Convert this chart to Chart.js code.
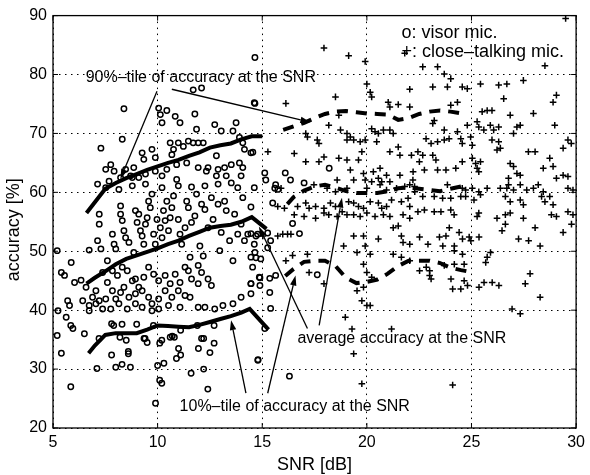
<!DOCTYPE html>
<html><head><meta charset="utf-8">
<script src="https://cdn.jsdelivr.net/npm/chart.js@4/dist/chart.umd.min.js"></script>
<style>html,body{margin:0;padding:0;background:#fff;}canvas{display:block;}</style>
</head><body>
<canvas id="c" width="590" height="475"></canvas>
<script>
// ---------- data (SNR [dB], accuracy [%]) ----------
const xTickValues = [5, 10, 15, 20, 25, 30];
const yTickValues = [20, 30, 40, 50, 60, 70, 80, 90];

const visorPoints = [
[7.21,56.3],[7.21,54.6],[5.55,45.9],[5.87,48.1],[6.03,44.7],[6.34,45.1],[6.73,50.2],[7.13,51.8],[7.29,50.4],[7.60,48.4],
[7.84,52.9],[7.92,51.2],[8.0,50.4],[8.23,57.7],[8.23,56.3],[8.31,55.2],[8.39,53.5],[8.47,52.3],[8.63,51.5],[8.86,49.8],
[8.94,56.9],[9.02,54.9],[9.10,56.3],[9.18,53.5],[9.26,52.6],[9.34,51.2],[9.42,54.6],[9.50,55.7],[9.57,58.5],[9.65,57.4],
[9.73,59.7],[9.81,52.9],[9.89,51.2],[9.97,55.4],[10.13,54.0],[10.21,52.3],[10.28,56.9],[10.36,55.2],[10.44,58.5],[10.52,53.5],
[10.60,55.7],[10.68,57.4],[10.76,59.4],[10.99,55.4],[11.07,52.9],[11.15,51.2],[11.31,54.0],[11.39,58.5],[11.47,57.4],[11.55,49.0],
[11.62,54.9],[11.78,56.0],[11.86,59.7],[11.94,47.6],[12.02,50.9],[12.10,58.0],[12.18,49.2],[12.26,57.1],[12.41,54.0],[12.57,59.1],
[12.65,55.4],[12.89,58.0],[12.97,50.1],[13.04,53.2],[13.20,58.5],[13.28,56.9],[13.44,51.8],[13.60,48.4],[13.68,56.3],[13.83,52.9],
[13.99,54.6],[14.07,59.1],[14.15,51.8],[14.31,52.9],[14.46,49.0],[14.54,47.3],[14.62,51.2],[14.78,52.9],[14.86,45.6],[14.46,44.5],
[13.99,42.2],[13.60,41.1],[13.12,40.8],[12.73,40.2],[12.57,44.2],[12.41,45.3],[12.10,46.4],[11.94,44.5],[11.62,45.3],[11.47,46.7],
[11.31,47.3],[11.07,44.7],[10.84,46.1],[10.60,44.5],[10.36,45.9],[10.05,45.0],[9.81,46.1],[9.57,47.3],[9.34,45.6],[9.10,43.9],
[8.94,45.3],[8.79,45.0],[8.55,46.7],[8.31,47.3],[8.08,45.9],[7.84,46.7],[7.60,44.7],[7.37,46.4],[7.05,43.3],[6.89,42.2],
[6.73,40.8],[6.58,43.9],[6.42,41.6],[7.21,41.6],[7.52,41.9],[7.84,43.3],[8.0,41.9],[8.23,43.0],[8.39,43.9],[8.63,42.2],
[8.94,42.8],[9.26,43.3],[9.57,42.2],[9.73,41.1],[10.05,41.9],[10.36,43.3],[10.68,42.2],[10.99,43.3],[11.31,42.5],[11.55,42.2],
[11.94,40.5],[12.26,40.5],[11.07,40.5],[10.52,40.8],[10.05,40.2],[9.73,39.9],[9.26,40.5],[8.94,41.1],[8.55,40.2],[8.15,41.1],
[7.76,40.2],[7.37,40.2],[7.05,41.1],[6.73,39.9],[5.79,40.8],[5.24,39.9],[5.63,38.8],[5.2,50.1],[5.4,46.4],[5.7,41.6],
[8.39,74.2],[8.31,69.0],[7.29,67.5],[7.52,63.9],[7.76,64.7],[7.92,63.6],[8.47,63.9],[8.86,64.2],[8.71,62.8],[9.26,66.7],
[9.34,65.6],[9.73,67.3],[9.89,65.9],[10.05,74.3],[10.13,73.2],[10.21,71.8],[10.44,73.9],[10.60,68.4],[10.68,66.4],[10.76,67.3],
[10.84,72.9],[10.91,64.7],[10.99,68.4],[11.07,71.8],[11.23,67.8],[11.47,68.7],[11.70,68.4],[11.78,73.3],[11.86,70.7],[11.94,68.4],
[12.18,68.4],[11.70,77.4],[12.10,77.7],[12.73,71.5],[13.04,70.4],[13.60,70.4],[13.75,71.8],[13.91,69.3],[14.07,68.4],[14.15,67.3],
[14.46,66.7],[14.62,75.2],[12.81,66.2],[11.94,64.2],[12.41,64.2],[12.89,63.9],[13.20,64.2],[13.52,64.7],[13.91,65.0],[14.07,64.2],
[13.99,62.8],[13.28,62.8],[12.81,62.8],[12.33,63.6],[11.39,65.0],[10.44,63.9],[10.21,62.8],[9.89,63.6],[10.91,62.2],[9.42,63.1],
[9.10,62.5],[8.79,62.5],[8.23,62.5],[7.68,61.9],[7.13,61.4],[7.52,60.8],[8.15,60.5],[8.79,61.1],[9.42,61.4],[10.21,60.8],
[10.99,61.1],[11.62,60.9],[12.26,61.1],[12.89,61.4],[13.52,61.6],[13.83,60.8],[14.62,60.8],
[5.2,35.7],[5.4,32.7],[5.85,37.4],[5.95,36.9],[6.5,36.0],[5.85,27.0],[7.1,30.1],[7.8,32.4],[8.0,30.3],[8.3,30.8],
[8.7,30.3],[8.6,33.0],[8.6,32.6],[7.2,35.2],[8.2,35.4],[8.5,34.9],[9.4,35.2],[10.1,34.4],[10.2,34.9],[10.0,30.6],
[10.1,28.1],[10.2,27.6],[9.9,24.2],[10.3,31.0],[10.6,35.4],[10.8,35.4],[11.0,33.5],[11.1,32.4],[10.9,31.8],[11.1,36.6],
[11.6,29.3],[11.95,33.5],[12.2,35.2],[12.2,30.0],[12.4,26.6],[12.5,32.8],[12.7,34.4],[12.7,37.4],[14.8,31.6],[7.8,37.7],
[7.9,37.4],[8.3,37.6],[9.0,37.6],[9.35,35.2],[9.5,34.5],[9.8,37.4],[10.7,35.6],[11.9,37.4],[12.1,35.2],
[14.65,82.9],[14.65,75.1],[14.55,66.8],[18.2,64.1],[15.12,63.3],[15.17,62.1],[15.64,61.3],[15.6,60.7],[16.1,63.3],[16.35,62.1],
[17.0,61.6],[15.5,58.2],[14.46,57.5],[15.75,60.5],[16.45,54.7],[15.26,53.1],[15.4,51.8],[15.26,50.6],[14.89,45.5],[15.36,45.4],
[15.64,45.9],[15.36,43.0],[15.4,40.3],[17.63,46.0],[14.46,53.0],[14.7,52.6],[16.78,53.0],[14.65,49.8],[14.7,48.9],[14.93,48.7],
[14.46,44.5],[14.89,44.2],[14.46,42.8],[15.12,36.9],[14.79,31.5],[16.3,28.8]
];

const closePoints = [
[17.95,84.5],[19.13,83.2],[19.92,82.2],[21.81,83.6],[22.05,77.5],[20.0,78.4],[20.16,77.0],[20.23,76.2],[18.5,76.2],[16.13,75.1],
[21.02,75.3],[21.1,74.5],[21.5,74.9],[22.05,74.5],[18.66,73.1],[18.18,71.4],[17.08,70.0],[17.16,69.4],[17.63,68.9],[17.71,68.3],
[18.74,70.6],[19.05,70.0],[19.21,69.4],[19.05,68.9],[19.37,68.9],[19.68,68.6],[19.92,68.9],[20.23,70.8],[20.39,70.3],[20.55,70.0],
[20.79,70.6],[21.1,70.6],[21.26,70.0],[20.47,68.6],[21.1,66.9],[21.5,67.7],[21.58,66.3],[22.13,66.3],[15.27,66.9],[16.53,66.6],
[17.08,65.2],[17.71,65.2],[17.95,66.0],[18.66,65.8],[19.05,65.5],[19.6,65.5],[19.76,66.9],[19.21,63.8],[19.84,63.2],[20.31,63.5],
[20.63,64.1],[20.55,62.4],[20.71,61.8],[20.94,62.9],[21.1,61.8],[21.58,62.9],[22.21,63.5],[18.58,62.1],[19.37,62.1],[19.92,62.1],
[20.23,61.8],[20.0,60.7],[17.47,61.3],[18.1,60.7],[18.5,60.1],[19.05,60.7],[20.63,61.3],[20.94,60.4],[21.42,60.7],[21.81,61.0],
[22.05,61.3],[22.29,60.1],[15.9,60.7],[15.74,57.6],[16.06,57.3],[16.69,57.6],[17.08,58.2],[17.24,57.3],[17.55,57.6],[17.95,57.3],
[18.26,58.2],[18.5,57.6],[19.13,58.4],[19.37,58.2],[19.6,57.6],[19.84,57.3],[20.16,58.4],[20.55,58.2],[20.71,57.3],[20.94,57.6],
[21.18,58.7],[21.65,58.4],[21.97,59.0],[22.05,57.6],[16.53,56.2],[17.0,55.9],[17.55,55.6],[17.95,56.5],[18.18,56.2],[18.58,55.9],
[18.82,56.7],[19.05,56.2],[19.37,56.2],[19.68,55.9],[20.0,56.5],[20.39,55.9],[20.79,56.2],[21.1,55.9],[21.73,56.2],[22.05,55.6],
[22.67,81.3],[23.38,81.3],[23.7,80.1],[24.01,79.3],[23.15,77.9],[23.85,77.9],[24.56,77.9],[24.8,77.6],[25.43,78.4],[26.3,78.2],
[26.69,78.4],[27.48,79.0],[28.51,81.5],[29.06,76.5],[28.9,75.3],[24.01,74.8],[24.33,75.3],[26.54,75.9],[25.51,73.7],[25.75,73.9],
[25.98,73.9],[26.85,73.1],[27.96,73.4],[23.15,71.7],[23.22,72.2],[23.7,70.6],[24.33,70.3],[24.8,71.4],[25.27,72.0],[25.35,71.1],
[25.59,70.6],[25.9,71.4],[26.06,70.6],[26.3,71.1],[27.17,71.1],[27.33,71.4],[28.98,71.4],[29.61,68.9],[29.77,68.3],[29.38,67.5],
[22.83,69.1],[23.07,68.3],[23.38,68.6],[23.7,68.9],[23.93,69.1],[24.49,69.1],[24.56,68.3],[24.96,69.4],[25.04,68.0],[25.98,68.9],
[26.3,68.6],[26.38,67.5],[26.22,67.2],[27.01,70.0],[27.72,66.9],[28.04,66.9],[22.44,66.9],[22.67,66.3],[23.15,66.3],[23.3,65.5],
[22.51,65.2],[22.75,63.8],[23.38,63.8],[23.78,63.8],[24.25,64.1],[24.56,65.2],[25.04,65.8],[25.2,64.9],[25.27,64.1],[25.35,63.5],
[25.43,65.2],[26.85,64.9],[27.01,64.4],[27.17,63.2],[27.33,62.9],[26.77,62.4],[26.77,61.3],[28.74,65.8],[28.9,64.4],[28.43,64.1],
[29.06,62.4],[29.38,62.9],[29.61,62.7],[22.2,62.1],[22.28,61.0],[23.85,61.3],[24.56,60.7],[24.72,60.4],[25.04,60.7],[25.35,60.1],
[25.75,60.7],[26.38,60.7],[26.69,60.7],[27.01,60.4],[27.33,61.3],[27.64,60.4],[27.96,60.7],[28.19,61.3],[28.43,60.1],[29.61,60.7],
[29.85,60.4],[22.67,59.3],[23.22,59.3],[23.62,59.0],[24.01,59.0],[24.49,59.3],[24.72,59.3],[25.12,58.7],[25.43,59.6],[26.62,59.3],
[26.85,58.4],[27.33,58.7],[27.48,57.9],[28.35,59.3],[28.51,58.4],[28.74,59.3],[28.9,57.9],[22.44,56.7],[22.75,57.0],[23.22,56.7],
[23.54,56.7],[24.01,57.0],[24.17,56.2],[25.27,55.9],[25.35,56.5],[26.22,55.6],[26.62,56.2],[26.85,56.5],[27.48,55.6],[28.82,56.2],
[29.06,55.9],[29.61,56.7],[29.85,56.2],[29.5,89.5],
[15.03,52.6],[15.74,52.6],[15.98,52.9],[16.21,52.9],[16.37,52.9],[16.13,48.4],[16.45,49.3],[17.16,49.5],[17.24,46.4],[17.95,44.5],
[18.89,50.9],[19.37,52.6],[19.53,49.8],[19.84,52.6],[19.92,50.9],[20.16,49.5],[19.84,47.8],[20.0,46.4],[20.23,45.6],[20.55,52.1],
[19.53,43.3],[19.84,43.9],[19.76,41.6],[20.0,40.8],[20.16,40.8],[18.97,38.8],[19.29,36.8],[19.37,32.6],[21.18,36.8],[19.76,27.5],
[21.26,54.0],[21.5,54.3],[21.65,52.6],[21.73,51.5],[22.05,51.2],[21.26,49.5],[21.65,49.0],[22.05,48.4],[22.52,52.4],[22.92,51.2],
[23.47,52.4],[23.78,52.6],[23.94,54.0],[24.41,53.2],[24.57,52.1],[24.89,52.4],[25.36,52.4],[23.63,50.9],[24.18,50.9],[24.18,50.1],
[24.57,49.5],[24.97,51.8],[22.52,46.7],[22.84,47.3],[23.0,46.7],[23.0,45.9],[23.07,45.3],[23.7,47.6],[24.02,45.3],[24.1,43.6],
[24.49,43.6],[24.65,45.0],[24.81,44.2],[24.18,47.8],[24.65,47.8],[25.36,43.9],[25.6,44.7],[25.99,44.7],[26.31,44.2],[25.68,48.1],
[25.75,49.0],[25.91,49.8],[26.46,53.5],[26.62,54.6],[27.25,52.1],[27.73,51.8],[28.04,54.0],[28.28,50.9],[29.38,53.2],[29.78,54.6],
[27.57,44.5],[27.8,46.2],[28.28,42.2],[26.94,40.2],[27.33,39.4],[24.1,27.3]
];

// percentile / average curves
const visorCurveSnr = [6.6,7.0,7.5,8.0,8.5,9.0,9.5,10.0,10.5,11.0,11.5,12.0,12.5,13.0,13.5,14.0,14.5,15.0];
const visor90 = [56.5,58.3,60.6,61.6,62.4,63.1,63.8,64.4,65.0,65.5,66.2,66.8,67.6,68.0,68.3,69.0,69.5,69.5];
const visorAvgSnr = [6.6,7.0,7.5,8.0,8.5,9.0,9.5,10.0,10.5,11.0,11.5,12.0,12.5,13.0,13.5,14.0,14.5,15.2];
const visorAvg = [44.5,45.5,46.6,47.8,48.7,49.3,49.9,50.5,51.2,51.8,52.6,53.3,54.0,54.3,54.5,55.0,55.8,53.8];
const visor10Snr = [6.7,7.0,7.5,8.0,8.5,9.0,9.5,10.0,10.5,11.0,11.5,12.0,12.5,13.0,13.5,14.0,14.4,15.3];
const visor10 = [32.7,34.0,35.8,36.1,36.1,36.1,36.7,37.4,37.3,37.2,37.1,37.5,38.0,38.5,39.0,39.6,40.2,36.7];

const close90Snr = [16.0,16.5,17.0,17.5,18.0,18.5,19.0,19.5,20.0,20.5,21.0,21.5,22.0,22.5,23.0,23.5,24.0,24.5];
const close90 = [70.6,71.2,71.8,72.6,73.3,73.7,73.8,73.6,73.4,73.3,73.2,72.3,72.6,73.3,73.7,73.9,73.7,73.4];
const closeAvgSnr = [16.2,16.5,17.0,17.5,18.0,18.5,19.0,19.5,20.0,20.5,21.0,21.5,22.0,22.5,23.0,23.5,24.0,24.5];
const closeAvg = [58.0,59.2,60.3,61.0,61.3,60.8,60.2,59.9,59.9,59.9,60.2,60.7,60.8,60.6,60.4,60.2,60.6,61.0];
const close10Snr = [16.1,16.5,17.0,17.5,18.0,18.5,19.0,19.5,20.0,20.5,21.0,21.5,22.0,22.5,23.0,23.5,24.0,24.5,24.8];
const close10 = [45.8,47.0,48.2,48.4,48.4,47.5,45.5,44.6,44.8,45.2,46.2,47.5,48.4,48.4,48.4,48.0,47.2,46.8,46.6];

// annotations (data coordinates)
const noteTexts = ["90%\u2013tile of accuracy at the SNR", "average accuracy at the SNR", "10%\u2013tile of accuracy at the SNR", "o: visor mic.", "+: close\u2013talking mic."];
const noteSnr = [6.56, 16.68, 11.05, 21.65, 21.65];
const noteAcc = [79.5, 35.2, 23.55, 86.96, 83.9];
const arrowFromSnr = [9.97, 10.68, 17.16, 17.72, 14.22, 15.26];
const arrowFromAcc = [77.15, 77.5, 36.9, 37.4, 25.9, 25.9];
const arrowToSnr   = [8.22, 17.3, 14.84, 18.81, 13.51, 16.59];
const arrowToAcc   = [62.27, 71.9, 54.2, 59.1, 38.3, 45.9];

const xTitle = "SNR [dB]";
const yTitle = "accuracy [%]";

// ---------- chart ----------
const FONT = '"Liberation Sans", Arial, Helvetica, sans-serif';
const pairs = (xs, ys) => xs.map((x, i) => ({x: x, y: ys[i]}));
const toXY = arr => arr.map(p => ({x: p[0], y: p[1]}));

const lineStyle = (data, dashed) => ({
  data: data, showLine: true, pointRadius: 0, borderColor: '#000', borderWidth: 4,
  borderDash: dashed ? [11, 8] : [], fill: false, tension: 0, borderCapStyle: 'butt', order: 0
});

const annotPlugin = {
  id: 'annot',
  afterDraw(chart) {
    const {ctx, chartArea: a, scales: {x, y}} = chart;
    ctx.save();
    // frame
    ctx.strokeStyle = '#000'; ctx.lineWidth = 1.3; ctx.setLineDash([]);
    ctx.strokeRect(a.left, a.top, a.right - a.left, a.bottom - a.top);
    // inward tick marks
    ctx.lineWidth = 1;
    ctx.beginPath();
    xTickValues.forEach(v => { const px = x.getPixelForValue(v);
      ctx.moveTo(px, a.bottom); ctx.lineTo(px, a.bottom - 5);
      ctx.moveTo(px, a.top); ctx.lineTo(px, a.top + 5); });
    yTickValues.forEach(v => { const py = y.getPixelForValue(v);
      ctx.moveTo(a.left, py); ctx.lineTo(a.left + 5, py);
      ctx.moveTo(a.right, py); ctx.lineTo(a.right - 5, py); });
    ctx.stroke();
    // arrows
    ctx.fillStyle = '#000'; ctx.lineWidth = 1.3;
    for (let i = 0; i < arrowFromSnr.length; i++) {
      const x1 = x.getPixelForValue(arrowFromSnr[i]), y1 = y.getPixelForValue(arrowFromAcc[i]);
      const x2 = x.getPixelForValue(arrowToSnr[i]), y2 = y.getPixelForValue(arrowToAcc[i]);
      const ang = Math.atan2(y2 - y1, x2 - x1), L = 10, W = 3.2;
      const bx = x2 - L * Math.cos(ang), by = y2 - L * Math.sin(ang);
      ctx.beginPath(); ctx.moveTo(x1, y1); ctx.lineTo(bx, by); ctx.stroke();
      ctx.beginPath(); ctx.moveTo(x2, y2);
      ctx.lineTo(bx + W * Math.sin(ang), by - W * Math.cos(ang));
      ctx.lineTo(bx - W * Math.sin(ang), by + W * Math.cos(ang));
      ctx.closePath(); ctx.fill();
    }
    // texts
    ctx.textBaseline = 'middle'; ctx.textAlign = 'left';
    noteTexts.forEach((t, i) => {
      ctx.font = (i >= 3 ? '18px ' : '16px ') + FONT;
      ctx.fillText(t, x.getPixelForValue(noteSnr[i]), y.getPixelForValue(noteAcc[i]));
    });
    // axis titles
    ctx.font = '18px ' + FONT; ctx.textAlign = 'center';
    ctx.fillText(xTitle, (a.left + a.right) / 2, 465);
    ctx.translate(14, (a.top + a.bottom) / 2 + 8);
    ctx.rotate(-Math.PI / 2);
    ctx.fillText(yTitle, 0, 0);
    ctx.restore();
  }
};

new Chart(document.getElementById('c'), {
  type: 'scatter',
  data: {
    datasets: [
      {label: 'visor mic.', data: toXY(visorPoints), pointStyle: 'circle', pointRadius: 2.7,
       pointBorderWidth: 1.5, pointBackgroundColor: 'rgba(0,0,0,0)', pointBorderColor: '#000', showLine: false, order: 2},
      {label: 'close-talking mic.', data: toXY(closePoints), pointStyle: 'cross', pointRadius: 3.3,
       pointBorderWidth: 1.5, pointBorderColor: '#000', showLine: false, order: 2},
      lineStyle(pairs(visorCurveSnr, visor90), false),
      lineStyle(pairs(visorAvgSnr, visorAvg), false),
      lineStyle(pairs(visor10Snr, visor10), false),
      lineStyle(pairs(close90Snr, close90), true),
      lineStyle(pairs(closeAvgSnr, closeAvg), true),
      lineStyle(pairs(close10Snr, close10), true)
    ]
  },
  options: {
    responsive: false, animation: false, devicePixelRatio: 1,
    layout: {padding: {top: 14, right: 8, left: 0, bottom: 0}},
    plugins: {legend: {display: false}, tooltip: {enabled: false}},
    scales: {
      x: {
        type: 'linear', min: 5, max: 30,
        afterFit: s => { s.height = 47; },
        afterBuildTicks: s => { s.ticks = xTickValues.map(v => ({value: v})); },
        ticks: {color: '#000', font: {family: FONT, size: 16}, padding: 5, maxRotation: 0},
        grid: {color: '#000', lineWidth: 1, drawTicks: false},
        border: {display: false, dash: [1.5, 4.5]}
      },
      y: {
        type: 'linear', min: 20, max: 90,
        afterFit: s => { s.width = 53; },
        afterBuildTicks: s => { s.ticks = yTickValues.map(v => ({value: v})); },
        ticks: {color: '#000', font: {family: FONT, size: 16}, padding: 6},
        grid: {color: '#000', lineWidth: 1, drawTicks: false},
        border: {display: false, dash: [1.5, 4.5]}
      }
    }
  },
  plugins: [annotPlugin]
});
</script>
</body></html>
